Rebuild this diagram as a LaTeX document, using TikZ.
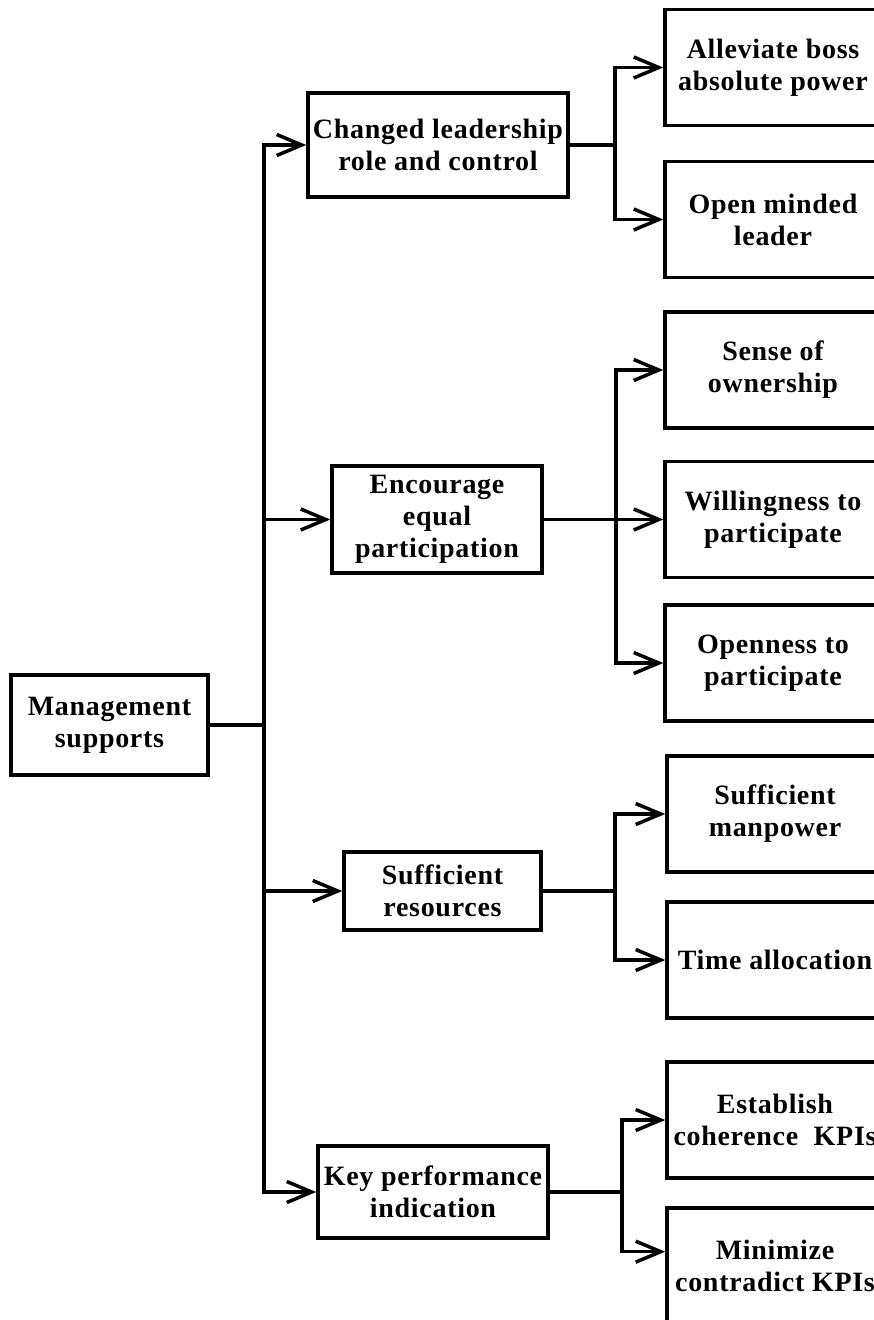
\documentclass[tikz,border=0pt]{standalone}
\usepackage{fontspec}
\setmainfont{Liberation Serif}[LetterSpace=2.5]
\usetikzlibrary{arrows.meta,calc}

\tikzset{
  box/.style={draw, line width=3.5pt, inner sep=0pt, align=center,
    font=\bfseries\fontsize{28}{32}\selectfont},
  leaf/.style={box, minimum width=216pt, minimum height=116pt},
  link/.style={line width=3.5pt},
  arr/.style={link, -{Straight Barb[length=25pt,width=21pt,line width=3.5pt]}},
}

\begin{document}
\begin{tikzpicture}[x=1pt, y=-1pt]
\useasboundingbox (0,0) rectangle (874,1320);
\fill[white] (0,0) rectangle (874,1320);
\clip (0,0) rectangle (874,1320);

% root
\node[box, minimum width=197pt, minimum height=100pt] (ms) at (109.5,725) {Management\\supports};

% first level
\node[box, minimum width=260pt, minimum height=104pt] (cl) at (438,145) {Changed leadership\\role and control};
\node[box, minimum width=210pt, minimum height=107pt] (ee) at (437,519.5) {Encourage\\equal\\participation};
\node[box, minimum width=197pt, minimum height=78pt] (sr) at (442.5,891) {Sufficient\\resources};
\node[box, minimum width=230pt, minimum height=92pt] (kp) at (433,1192) {Key performance\\indication};

% second level
\node[leaf] (a1) at (773,67.5) {Alleviate boss\\absolute power};
\node[leaf] (a2) at (773,219.5) {Open minded\\leader};
\node[leaf] (b1) at (773,370) {Sense of\\ownership};
\node[leaf] (b2) at (773,519.5) {Willingness to\\participate};
\node[leaf] (b3) at (773,663) {Openness to\\participate};
\node[leaf] (c1) at (775,814) {Sufficient\\manpower};
\node[leaf] (c2) at (775,960) {Time allocation};
\node[leaf] (d1) at (775,1120) {Establish\\coherence~ KPIs};
\node[leaf] (d2) at (775,1266) {Minimize\\contradict KPIs};

% trunk from the root
\coordinate (t) at (264,725);
\draw[link] (ms.east) -- (t);
\draw[arr] (t) |- (cl.west);
\draw[arr] (t) |- (ee.west);
\draw[arr] (t) |- (sr.west);
\draw[arr] (t) |- (kp.west);

% branch: leadership
\coordinate (ja) at (615,145);
\draw[link] (cl.east) -- (ja);
\draw[arr] (ja) |- (a1.west);
\draw[arr] (ja) |- (a2.west);

% branch: participation
\coordinate (jb) at (616,519.5);
\draw[link] (ee.east) -- (jb);
\draw[arr] (jb) |- (b1.west);
\draw[arr] (jb) -- (b2.west);
\draw[arr] (jb) |- (b3.west);

% branch: resources
\coordinate (jc) at (615,891);
\draw[link] (sr.east) -- (jc);
\draw[arr] (jc) |- (c1.west);
\draw[arr] (jc) |- (c2.west);

% branch: KPIs
\coordinate (jd) at (622,1192);
\draw[link] (kp.east) -- (jd);
\draw[arr] (jd) |- (d1.west);
\draw[arr] (jd) |- ($(d2.north west)!0.38!(d2.south west)$);
\end{tikzpicture}
\end{document}
